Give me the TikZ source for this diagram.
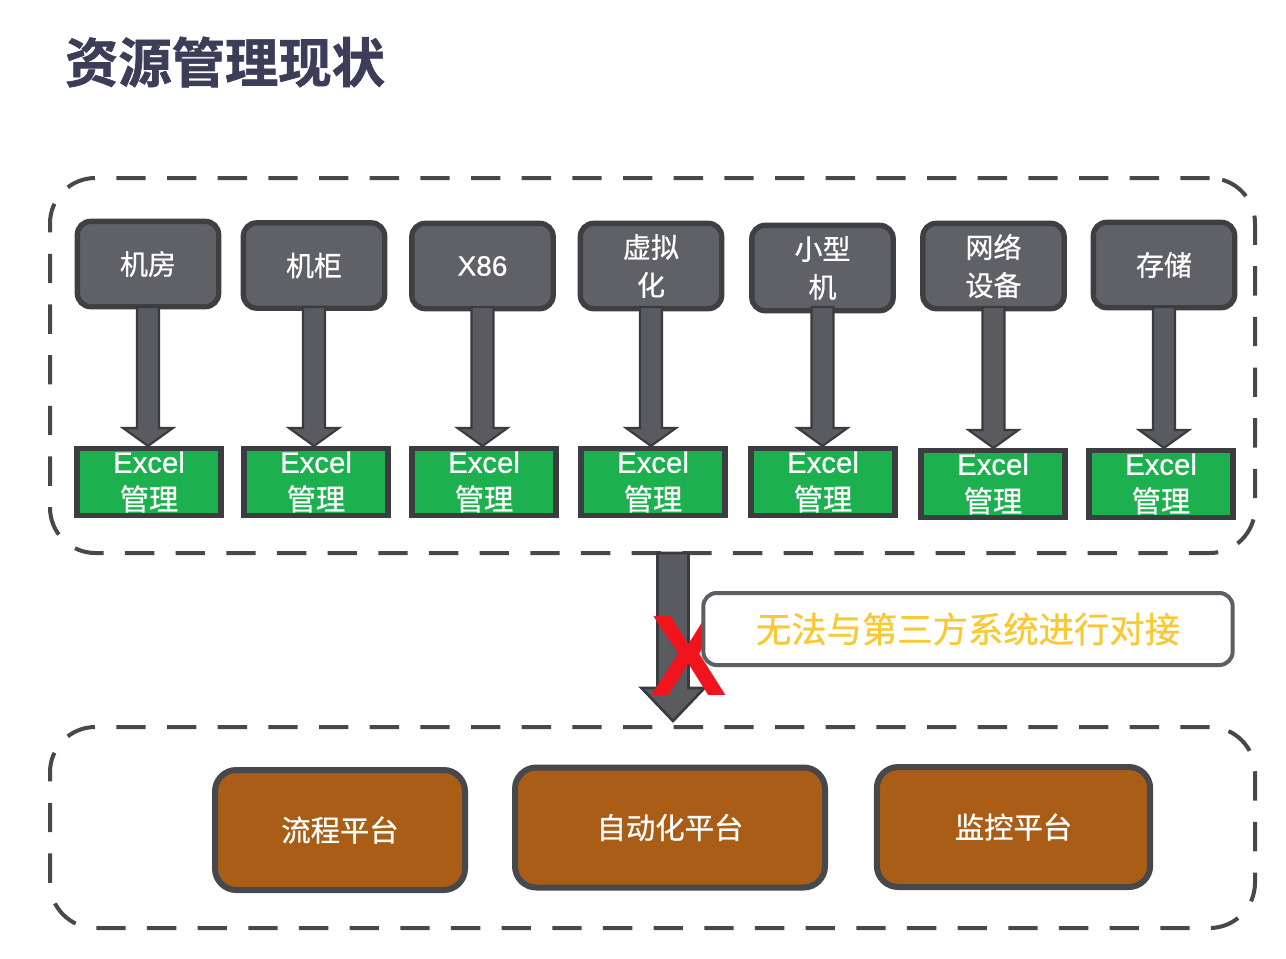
\documentclass[tikz,border=0pt]{standalone}
\usepackage{fontspec}
\setmainfont{Noto Sans CJK SC}[FakeBold=0.7]
\newfontfamily\latf{Liberation Sans}[FakeBold=0.7]
\newfontfamily\latb{Liberation Sans Bold}
\newfontfamily\titlef{Noto Sans CJK SC Bold}[FakeBold=1.2]
\usetikzlibrary{calc}
\definecolor{titlec}{HTML}{3C3D58}
\definecolor{dashc}{HTML}{47484C}
\definecolor{grayfill}{HTML}{606166}
\definecolor{grayedge}{HTML}{3E3F43}
\definecolor{greenfill}{HTML}{1DB04E}
\definecolor{greenedge}{HTML}{3C3D41}
\definecolor{arrfill}{HTML}{5A5B60}
\definecolor{arredge}{HTML}{3A3B3F}
\definecolor{calloutedge}{HTML}{5E5F64}
\definecolor{callouttext}{HTML}{F7C934}
\definecolor{brownfill}{HTML}{A95D17}
\definecolor{brownedge}{HTML}{47484C}
\definecolor{redx}{HTML}{F0141E}
\begin{document}
\begin{tikzpicture}[x=0.75pt,y=-0.75pt,
  dashbox/.style={draw=dashc, line width=3pt, dash pattern=on 22pt off 16pt, rounded corners=34pt, inner sep=0pt, minimum width=903.75pt},
  graybox/.style={draw=grayedge, fill=grayfill, line width=4pt, rounded corners=10pt, minimum width=106pt, minimum height=64pt, inner sep=0pt, text=white, font=\fontsize{21}{28.5}\selectfont, align=center},
  greenbox/.style={draw=greenedge, fill=greenfill, line width=4pt, minimum width=108pt, minimum height=50pt, inner sep=0pt, text=white, font=\fontsize{22}{28}\selectfont, align=center},
  brownbox/.style={draw=brownedge, fill=brownfill, line width=4.5pt, rounded corners=16pt, minimum height=90pt, inner sep=0pt, text=white, font=\fontsize{22}{26}\selectfont},
  callout/.style={draw=calloutedge, fill=white, line width=3pt, rounded corners=10pt, minimum width=397pt, minimum height=54pt, inner sep=0pt, text=callouttext, font=\fontsize{26.5}{30}\selectfont},
  blockarrow/.style={fill=arrfill, draw=arredge, line width=1.6pt, line join=miter,
    to path={ ($(\tikztostart)+(-11,0)$) -- ($(\tikztotarget)+(-11,-18)$) -- ($(\tikztotarget)+(-25,-18)$) -- (\tikztotarget) -- ($(\tikztotarget)+(25,-18)$) -- ($(\tikztotarget)+(11,-18)$) -- ($(\tikztostart)+(11,0)$) -- cycle }},
  bigarrow/.style={fill=arrfill, draw=arredge, line width=2pt, line join=miter,
    to path={ ($(\tikztostart)+(-15.5,0)$) -- ($(\tikztotarget)+(-15.5,-33)$) -- ($(\tikztotarget)+(-31.5,-33)$) -- (\tikztotarget) -- ($(\tikztotarget)+(31.5,-33)$) -- ($(\tikztotarget)+(15.5,-33)$) -- ($(\tikztostart)+(15.5,0)$) -- cycle }}
]
\useasboundingbox (0,0) rectangle (1286,958);

% title
\node[text=titlec, font=\fontsize{40}{44}\titlef\selectfont] (title) at (225,62) {资源管理现状};

% dashed containers
\node[dashbox, minimum height=281.25pt] (top) at (652.5,365.5) {};
\node[dashbox, minimum height=150.75pt] (bot) at (652.5,827.5) {};

% source boxes
\node[graybox] (g1) at (148,264) {机房};
\node[graybox] (g2) at (314,265.5) {机柜};
\node[graybox] (g3) at (482.5,266) {\latf X86};
\node[graybox] (g4) at (651,266) {虚拟\\化};
\node[graybox] (g5) at (822.5,268) {小型\\机};
\node[graybox] (g6) at (993.5,266) {网络\\设备};
\node[graybox] (g7) at (1164,265) {存储};

% excel boxes
\foreach \i/\x/\y in {1/149/482, 2/316/482, 3/484/482, 4/653/482, 5/823/482, 6/993/484, 7/1161/484}{
  \node[greenbox] (e\i) at (\x,\y) {{\latf Excel}\\管理};
}

% arrows
\foreach \i in {1,...,7}{
  \draw[blockarrow] (g\i.south |- 0,307) to (g\i.south |- e\i.north);
}

% big arrow
\coordinate (bs) at (673,553);
\coordinate (be) at (673,721);
\draw[bigarrow] (bs) to (be);

% red X
\node[text=redx, font=\fontsize{86}{88}\latb\selectfont, inner sep=0pt] (x) at (689,656) {X};

% callout
\node[callout] (c) at (968,629) {无法与第三方系统进行对接};

% platform boxes
\node[brownbox, minimum width=187.5pt] (p1) at (340,830) {流程平台};
\node[brownbox, minimum width=232.5pt] (p2) at (670,827.5) {自动化平台};
\node[brownbox, minimum width=205pt] (p3) at (1013.5,827) {监控平台};
\end{tikzpicture}
\end{document}
